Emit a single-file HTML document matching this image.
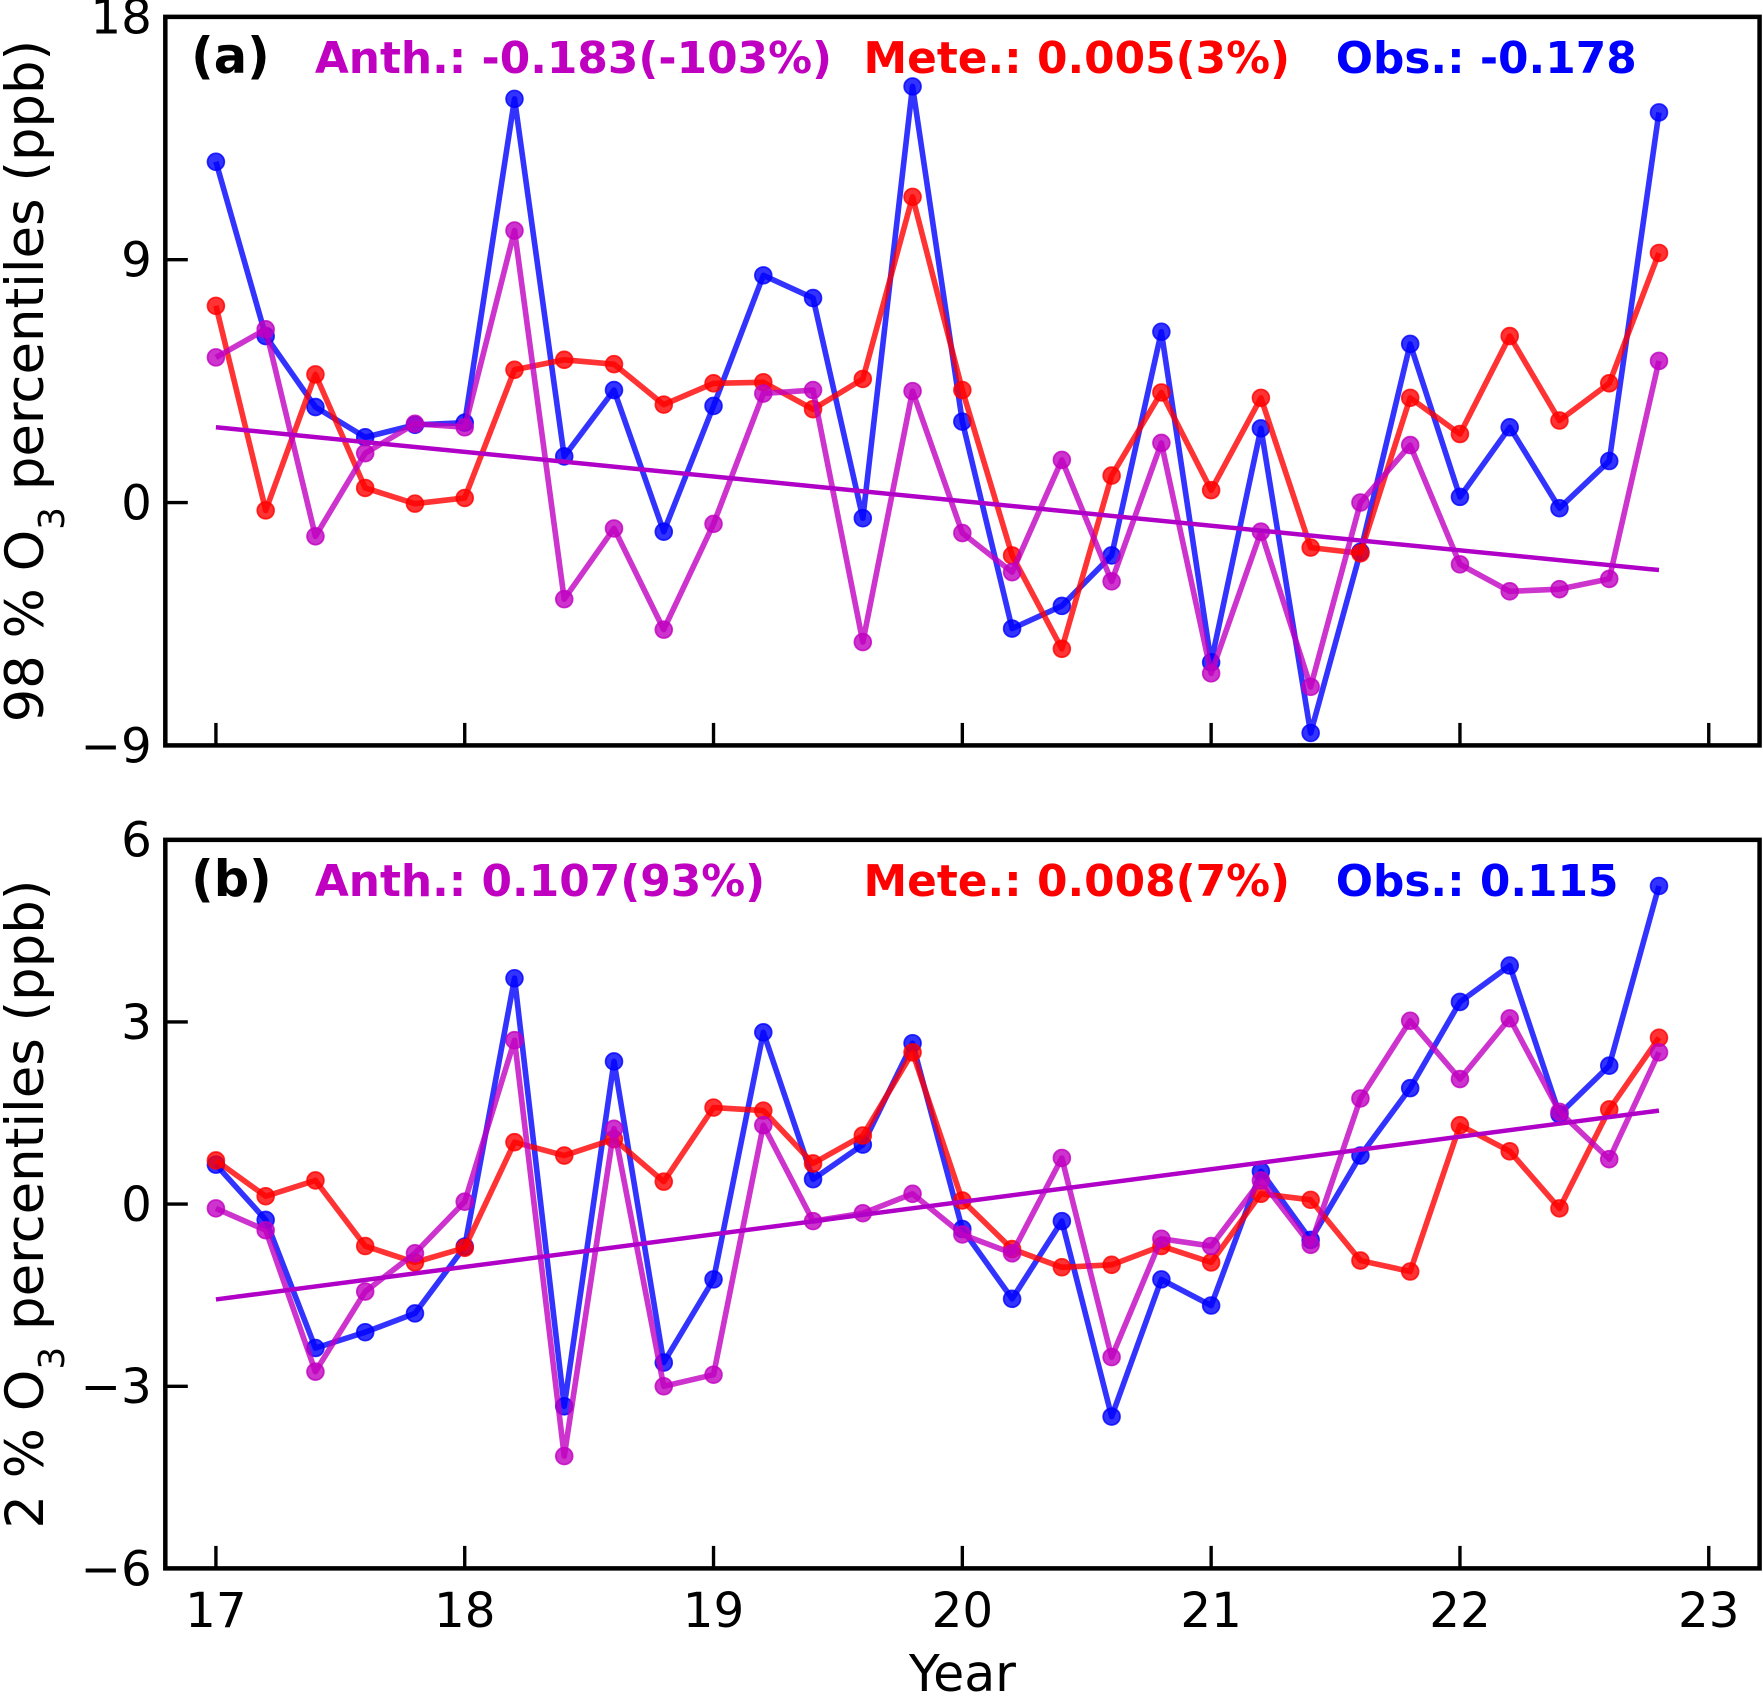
<!DOCTYPE html>
<html><head><meta charset="utf-8"><style>
html,body{margin:0;padding:0;background:#fff}
svg{display:block;font-family:"DejaVu Sans","Liberation Sans",sans-serif}
</style></head><body>
<svg id="chart" width="1763" height="1696" viewBox="0 0 1568 1508.5" xmlns="http://www.w3.org/2000/svg"></svg>
<script>
const years = [17.0,17.2,17.4,17.6,17.8,18.0,18.2,18.4,18.6,18.8,19.0,19.2,19.4,19.6,19.8,20.0,20.2,20.4,20.6,20.8,21.0,21.2,21.4,21.6,21.8,22.0,22.2,22.4,22.6,22.8];
const xTicks = [17,18,19,20,21,22,23];
const obsA = [12.63,6.17,3.54,2.42,2.88,2.96,14.96,1.71,4.17,-1.08,3.58,8.42,7.58,-0.58,15.42,3.0,-4.67,-3.83,-1.96,6.33,-5.92,2.75,-8.54,-1.83,5.88,0.21,2.79,-0.21,1.54,14.46];
const meteA = [7.29,-0.29,4.75,0.54,-0.04,0.17,4.92,5.29,5.13,3.63,4.42,4.46,3.46,4.58,11.33,4.17,-1.96,-5.42,1.0,4.08,0.46,3.88,-1.67,-1.88,3.88,2.54,6.17,3.04,4.42,9.25];
const anthA = [5.38,6.42,-1.25,1.83,2.92,2.79,10.08,-3.58,-0.96,-4.71,-0.79,4.04,4.17,-5.17,4.13,-1.13,-2.58,1.58,-2.92,2.21,-6.33,-1.08,-6.83,0,2.13,-2.29,-3.29,-3.21,-2.83,5.25];
const trendA = [2.79,-2.5];
const yTicksA = [-9,0,9,18];
const obsB = [0.65,-0.26,-2.37,-2.11,-1.80,-0.70,3.72,-3.33,2.35,-2.61,-1.24,2.83,0.41,0.98,2.65,-0.41,-1.56,-0.28,-3.5,-1.24,-1.67,0.54,-0.59,0.8,1.91,3.33,3.93,1.48,2.28,5.24];
const meteB = [0.72,0.13,0.39,-0.69,-0.96,-0.72,1.02,0.80,1.07,0.37,1.59,1.54,0.67,1.13,2.5,0.06,-0.74,-1.04,-1.0,-0.69,-0.96,0.17,0.07,-0.93,-1.11,1.30,0.87,-0.07,1.56,2.74];
const anthB = [-0.07,-0.43,-2.76,-1.44,-0.81,0.04,2.70,-4.15,1.24,-3.0,-2.81,1.30,-0.28,-0.15,0.17,-0.5,-0.81,0.76,-2.52,-0.57,-0.69,0.39,-0.67,1.74,3.02,2.06,3.06,1.52,0.74,2.5];
const trendB = [-1.57,1.54];
const yTicksB = [-6,-3,0,3,6];

const NS="http://www.w3.org/2000/svg";
const svg=document.getElementById('chart');
function mk(tag,attrs,parent){const e=document.createElementNS(NS,tag);for(const k in attrs)e.setAttribute(k,attrs[k]);(parent||svg).appendChild(e);return e;}
const L=147,R=1565;
const xs=v=>192+(v-17)*221.3;

function panel(top,bottom,ymin,ymax,yt,obs,mete,anth,trend,label,texts,ytitle,pname){
  const g=mk('g',{});
  
  
  const ys=v=>bottom-(v-ymin)/(ymax-ymin)*(bottom-top);
  const series=[[obs,'#0000ff','obs'],[mete,'#ff0000','mete'],[anth,'#c000c0','anth']];
  series.forEach(([d,c,n])=>{
    const pts=d.map((v,i)=>xs(years[i]).toFixed(1)+','+ys(v).toFixed(1)).join(' ');
    const pl=mk('polyline',{points:pts,fill:'none',stroke:c,'stroke-width':5,'stroke-opacity':0.8,'stroke-linejoin':'round'},g);
    
    
    d.forEach((v,i)=>{
      const c2=mk('circle',{cx:xs(years[i]),cy:ys(v),r:7.5,fill:c,'fill-opacity':0.8,stroke:c,'stroke-opacity':0.8,'stroke-width':1.5},g);
      
      
    });
  });
  const tl=mk('line',{x1:xs(years[0]),y1:ys(trend[0]),x2:xs(years[years.length-1]),y2:ys(trend[1]),stroke:'#b000c8','stroke-width':4},g);
  
  
  const fr=mk('rect',{x:L,y:top,width:R-L,height:bottom-top,fill:'none',stroke:'#000','stroke-width':4},g);
  
  
  xTicks.forEach(t=>{
    const l=mk('line',{x1:xs(t),x2:xs(t),y1:bottom,y2:bottom-20,stroke:'#000','stroke-width':3},g);
    
    
  });
  yt.forEach(t=>{
    const l=mk('line',{x1:L,x2:L+20,y1:ys(t),y2:ys(t),stroke:'#000','stroke-width':3},g);
    
    
    const tx=mk('text',{x:L-12,y:ys(t)+15,'text-anchor':'end','font-size':43},g);
    tx.textContent=(t<0?'\u2212'+Math.abs(t):String(t));
    
    
  });
  const lb=mk('text',{x:170,y:top+50,'font-size':44,'font-weight':'bold'},g);
  lb.textContent=label;
  
  
  texts.forEach(([x,t,c,n])=>{
    const tx=mk('text',{x:x,y:top+50,'font-size':39,'font-weight':'bold',fill:c},g);
    tx.textContent=t;
    
    
  });
  const cy=(top+bottom)/2;
  const ttl=mk('text',{x:0,y:0,'font-size':47,'text-anchor':'middle',transform:`translate(38,${cy}) rotate(-90)`},g);
  ttl.innerHTML=ytitle;
  
  
}
panel(15,663,-9,18,yTicksA,obsA,meteA,anthA,trendA,'(a)',
 [[280,'Anth.: -0.183(-103%)','#c000c0','anth-annotation'],[768,'Mete.: 0.005(3%)','#ff0000','mete-annotation'],[1188,'Obs.: -0.178','#0000ff','obs-annotation']],
 '98 % O<tspan baseline-shift="sub" font-size="32">3</tspan> percentiles (ppb)','panel-a');
panel(747,1395,-6,6,yTicksB,obsB,meteB,anthB,trendB,'(b)',
 [[280,'Anth.: 0.107(93%)','#c000c0','anth-annotation'],[768,'Mete.: 0.008(7%)','#ff0000','mete-annotation'],[1188,'Obs.: 0.115','#0000ff','obs-annotation']],
 '2 % O<tspan baseline-shift="sub" font-size="32">3</tspan> percentiles (ppb)','panel-b');
xTicks.forEach(t=>{
  const tx=mk('text',{x:xs(t),y:1447,'text-anchor':'middle','font-size':43});
  tx.textContent=String(t);
  
  
});
const xt=mk('text',{x:856,y:1504,'text-anchor':'middle','font-size':45});
xt.textContent='Year';


</script>
</body></html>
